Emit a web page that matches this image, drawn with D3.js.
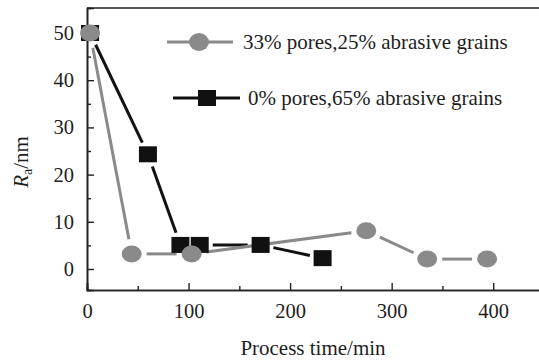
<!DOCTYPE html>
<html>
<head>
<meta charset="utf-8">
<script src="https://cdn.jsdelivr.net/npm/d3@7"></script>
<style>
  body { margin: 0; background: #fff; }
  svg text { font-family: "Liberation Serif", "Times New Roman", serif; fill: #1e1e1e; }
</style>
</head>
<body>
<div id="chart"></div>
<script>
// series: 33% pores, 25% abrasive grains (grey circles)
const poreTimes = [3, 44, 103, 275, 335, 394];
const poreRa = [50, 3.2, 3.2, 8.1, 2.1, 2.1];
// series: 0% pores, 65% abrasive grains (black squares)
const densTimes = [3, 60, 92, 111, 171, 232];
const densRa = [50, 24.3, 5.1, 5.1, 5.1, 2.3];

const xTicks = [0, 100, 200, 300, 400];
const yTicks = [0, 10, 20, 30, 40, 50];
const seriesNames = ['33% pores,25% abrasive grains', '0% pores,65% abrasive grains'];

const W = 539, H = 362;
const margin = { top: 8, right: -6, bottom: 72, left: 87 };
const width = W - margin.left - margin.right;
const height = H - margin.top - margin.bottom;

const x = d3.scaleLinear().domain([0, 451]).range([0, width]);
const y = d3.scaleLinear().domain([-4.45, 55.3]).range([height, 0]);

const svg = d3.select('#chart').append('svg')
  .attr('width', W)
  .attr('height', H);

const g = svg.append('g')
  .attr('transform', 'translate(' + margin.left + ',' + margin.top + ')');

// axes with ticks pointing inward
const xAxis = g.append('g')
  .attr('transform', 'translate(0,' + height + ')')
  .call(d3.axisBottom(x).tickValues(xTicks).tickSize(-7).tickPadding(13).tickFormat(d3.format('d')));
const xMinor = g.append('g')
  .attr('transform', 'translate(0,' + height + ')')
  .call(d3.axisBottom(x).tickValues([50, 150, 250, 350]).tickSize(-4).tickFormat(''));
const yAxis = g.append('g')
  .call(d3.axisLeft(y).tickValues(yTicks).tickSize(-7).tickPadding(13).tickFormat(d3.format('d')));
const yMinor = g.append('g')
  .call(d3.axisLeft(y).tickValues([5, 15, 25, 35, 45]).tickSize(-4).tickFormat(''));

[xAxis, xMinor, yAxis, yMinor].forEach(function (a) {
  a.select('.domain').attr('stroke', '#222').attr('stroke-width', 1.6);
  a.selectAll('.tick line').attr('stroke', '#222').attr('stroke-width', 1.4);
  a.selectAll('.tick text').style('font-size', '20.5px').attr('fill', '#1e1e1e');
});
xAxis.selectAll('.tick text').attr('dy', '0.71em');

// top frame line
g.append('line')
  .attr('x1', 0).attr('x2', width)
  .attr('y1', 0).attr('y2', 0)
  .attr('stroke', '#222').attr('stroke-width', 1.6);

// draw segments with small gaps around markers
function gappedSegments(xs, ys, gap) {
  const segs = [];
  for (let i = 0; i < xs.length - 1; i++) {
    const x1 = x(xs[i]), y1 = y(ys[i]), x2 = x(xs[i + 1]), y2 = y(ys[i + 1]);
    const len = Math.hypot(x2 - x1, y2 - y1);
    if (len <= 2 * gap) continue;
    const ux = (x2 - x1) / len, uy = (y2 - y1) / len;
    segs.push([x1 + ux * gap, y1 + uy * gap, x2 - ux * gap, y2 - uy * gap]);
  }
  return segs;
}

const grey = '#8a8a8a';
const black = '#111';

// black series lines
g.append('g').selectAll('line')
  .data(gappedSegments(densTimes, densRa, 13))
  .enter().append('line')
  .attr('x1', d => d[0]).attr('y1', d => d[1])
  .attr('x2', d => d[2]).attr('y2', d => d[3])
  .attr('stroke', black).attr('stroke-width', 3);

// grey series lines
g.append('g').selectAll('line')
  .data(gappedSegments(poreTimes, poreRa, 15))
  .enter().append('line')
  .attr('x1', d => d[0]).attr('y1', d => d[1])
  .attr('x2', d => d[2]).attr('y2', d => d[3])
  .attr('stroke', grey).attr('stroke-width', 3);

// squares
g.append('g').selectAll('rect')
  .data(densTimes.map((t, i) => [t, densRa[i]]))
  .enter().append('rect')
  .attr('x', d => x(d[0]) - 9)
  .attr('y', d => y(d[1]) - 8)
  .attr('width', 18).attr('height', 16)
  .attr('fill', black);

// circles
g.append('g').selectAll('ellipse')
  .data(poreTimes.map((t, i) => [t, poreRa[i]]))
  .enter().append('ellipse')
  .attr('cx', d => x(d[0]))
  .attr('cy', d => y(d[1]))
  .attr('rx', 10).attr('ry', 8.5)
  .attr('fill', grey);

// legend
const legend = svg.append('g');
legend.append('line').attr('x1', 167).attr('x2', 233).attr('y1', 42).attr('y2', 42)
  .attr('stroke', grey).attr('stroke-width', 3);
legend.append('ellipse').attr('cx', 199).attr('cy', 42).attr('rx', 10).attr('ry', 9).attr('fill', grey);
legend.append('text').attr('x', 243).attr('y', 49).style('font-size', '21px').text(seriesNames[0]);

legend.append('line').attr('x1', 173).attr('x2', 240).attr('y1', 98).attr('y2', 98)
  .attr('stroke', black).attr('stroke-width', 3);
legend.append('rect').attr('x', 198).attr('y', 90).attr('width', 18).attr('height', 16).attr('fill', black);
legend.append('text').attr('x', 248).attr('y', 105).style('font-size', '21px').text(seriesNames[1]);

// axis titles
svg.append('text')
  .attr('x', 313).attr('y', 355)
  .attr('text-anchor', 'middle')
  .style('font-size', '21px')
  .text('Process time/min');

const yt = svg.append('text')
  .attr('transform', 'translate(28,162) rotate(-90)')
  .attr('text-anchor', 'middle')
  .style('font-size', '21px');
yt.append('tspan').style('font-style', 'italic').text('R');
yt.append('tspan').attr('dy', 4).style('font-size', '14px').text('a');
yt.append('tspan').attr('dy', -4).text('/nm');
</script>
</body>
</html>
